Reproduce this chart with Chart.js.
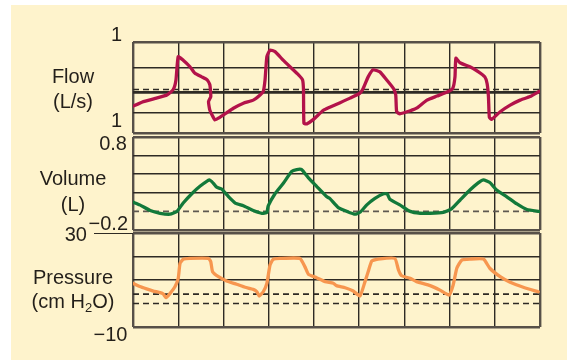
<!DOCTYPE html>
<html>
<head>
<meta charset="utf-8">
<script src="https://cdn.jsdelivr.net/npm/chart.js@4.4.0/dist/chart.umd.min.js"></script>
<style>
  html, body { margin: 0; padding: 0; background: #ffffff; }
  #page { position: relative; width: 567px; height: 360px; overflow: hidden; }
  #paper { position: absolute; left: 11px; top: 5px; width: 556px; height: 355px; background: #fef3cc; }
  canvas { position: absolute; }
  .lbl { position: absolute; font-family: "Liberation Sans", Arial, sans-serif; color: #231f1a; white-space: nowrap; }
  .name { font-size: 20px; line-height: 20px; text-align: center; width: 110px; }
  .tick { font-size: 20px; line-height: 20px; text-align: right; width: 60px; }
  sub { font-size: 13px; vertical-align: -4px; line-height: 0; }
</style>
</head>
<body>
<div id="page">
  <div id="paper"></div>
  <canvas id="flow-chart"></canvas>
  <canvas id="volume-chart"></canvas>
  <canvas id="pressure-chart"></canvas>
  <div style="position:absolute;left:94px;top:233px;width:39px;border-top:1.5px solid #2e2a24;"></div>
  <div id="labels"></div>
</div>
<script>
"use strict";

// time axis: 9 grid columns
const timeGrid = [0, 1, 2, 3, 4, 5, 6, 7, 8, 9];

// Flow (L/s)
const flowTime = [0.00, 0.23, 0.52, 0.75, 0.89, 0.95, 1.00, 1.11, 1.26, 1.37, 1.52, 1.64, 1.70, 1.72, 1.67, 1.70, 1.81, 1.92, 2.07, 2.22,
    2.44, 2.66, 2.81, 2.88, 2.92, 2.96, 3.03, 3.14, 3.32, 3.47, 3.66, 3.75, 3.77, 3.78, 3.84, 3.99, 4.21, 4.35, 4.58, 4.80,
    5.02, 5.09, 5.20, 5.31, 5.46, 5.61, 5.76, 5.81, 5.83, 5.90, 6.13, 6.27, 6.50, 6.72, 6.97, 7.07, 7.12, 7.14, 7.23, 7.45,
    7.64, 7.78, 7.83, 7.86, 7.88, 7.93, 8.12, 8.34, 8.56, 8.78, 8.98];
const flowValue = [-0.27, -0.18, -0.11, -0.05, 0.06, 0.25, 0.71, 0.64, 0.51, 0.38, 0.31, 0.25, 0.15, -0.08, -0.18, -0.35, -0.54, -0.49, -0.40, -0.31,
    -0.21, -0.15, -0.05, 0.02, 0.25, 0.71, 0.84, 0.81, 0.64, 0.51, 0.35, 0.25, 0.05, -0.61, -0.62, -0.53, -0.35, -0.29, -0.20, -0.11,
    -0.01, 0.08, 0.31, 0.45, 0.41, 0.25, 0.08, -0.05, -0.38, -0.42, -0.36, -0.31, -0.15, -0.07, 0.02, 0.08, 0.31, 0.68, 0.59, 0.51,
    0.41, 0.31, 0.18, -0.08, -0.49, -0.53, -0.38, -0.25, -0.15, -0.08, 0.02];
const flowGrid = [-0.8, -0.4, 0, 0.5, 1.0];
const flowDashed = [0.06];

// Volume (L)
const volumeTime = [0.00, 0.15, 0.38, 0.60, 0.82, 0.97, 1.11, 1.30, 1.48, 1.69, 1.78, 1.85, 1.96, 2.11, 2.26, 2.44, 2.66, 2.85, 2.96, 2.99,
    3.14, 3.32, 3.51, 3.62, 3.73, 3.88, 4.06, 4.28, 4.35, 4.54, 4.73, 4.91, 5.02, 5.17, 5.35, 5.54, 5.62, 5.68, 5.90, 6.13,
    6.35, 6.57, 6.86, 7.05, 7.23, 7.45, 7.64, 7.75, 7.89, 8.04, 8.26, 8.49, 8.71, 8.98];
const volumeValue = [0.10, 0.07, 0.01, -0.02, -0.03, 0.00, 0.09, 0.19, 0.27, 0.34, 0.30, 0.26, 0.24, 0.16, 0.09, 0.06, 0.01, -0.02, -0.01, 0.06,
    0.19, 0.30, 0.43, 0.45, 0.45, 0.36, 0.27, 0.16, 0.14, 0.04, 0.00, -0.03, -0.01, 0.07, 0.14, 0.19, 0.19, 0.13, 0.07, 0.00,
    -0.02, -0.02, -0.01, 0.03, 0.12, 0.23, 0.31, 0.34, 0.31, 0.23, 0.16, 0.08, 0.02, 0.00];
const volumeGrid = [-0.2, 0.2, 0.4, 0.6, 0.8];
const volumeDashed = [0];

// Pressure (cm H2O)
const pressureTime = [0.00, 0.15, 0.30, 0.45, 0.60, 0.67, 0.73, 0.82, 0.93, 1.00, 1.04, 1.11, 1.26, 1.67, 1.72, 1.76, 1.89, 2.07, 2.29, 2.48,
    2.66, 2.74, 2.79, 2.88, 2.96, 3.03, 3.10, 3.25, 3.69, 3.80, 3.88, 4.06, 4.25, 4.43, 4.50, 4.69, 4.87, 5.02, 5.13, 5.20,
    5.28, 5.42, 5.79, 5.87, 5.94, 6.13, 6.27, 6.57, 6.79, 6.99, 7.08, 7.16, 7.27, 7.45, 7.75, 7.89, 8.12, 8.34, 8.63, 8.96];
const pressureValue = [8.6, 7.2, 6.2, 5.3, 4.6, 4.0, 2.5, 4.3, 7.2, 10.7, 17.1, 18.8, 19.2, 19.2, 17.8, 13.5, 11.4, 9.6, 8.2, 6.9,
    6.0, 5.0, 3.2, 5.0, 8.6, 16.4, 18.8, 19.2, 19.2, 15.7, 12.4, 11.0, 9.3, 8.6, 7.6, 6.7, 5.3, 3.2, 9.3, 13.5,
    18.1, 18.9, 19.2, 14.3, 11.8, 10.7, 9.3, 7.6, 5.7, 3.6, 7.9, 15.0, 18.5, 18.9, 18.9, 15.0, 11.4, 9.0, 6.9, 5.0];
const pressureGrid = [-10, 10, 20, 30];
const pressureDashed = [4, 0];

// text labels
const panelNames = [["Flow", "(L/s)"], ["Volume", "(L)"], ["Pressure", "(cm H<sub>2</sub>O)"]];
const tickLabels = ["1", "1", "0.8", "\u22120.2", "30", "\u221210"];

const PAD = 6;
const LEFT = 133, WIDTH = 407;
const EDGE = "#575048", INNER = "#2e2a24";

function makePanel(id, times, values, color, yMin, yMax, grid, dashed, top, height, thickZero, dashColor) {
    const canvas = document.getElementById(id);
    canvas.style.left = (LEFT - PAD) + "px";
    canvas.style.top = (top - PAD) + "px";
    canvas.width = WIDTH + 2 * PAD;
    canvas.height = height + 2 * PAD;
    canvas.style.width = canvas.width + "px";
    canvas.style.height = canvas.height + "px";

    const datasets = [{
        data: times.map((t, i) => ({ x: t, y: values[i] })),
        borderColor: color,
        borderWidth: 3.3,
        pointRadius: 0,
        tension: 0.15,
        borderJoinStyle: 'round',
        borderCapStyle: 'round',
        order: 0,
    }];
    dashed.forEach(v => {
        datasets.push({
            data: [{ x: 0, y: v }, { x: 9, y: v }],
            borderColor: dashColor,
            borderWidth: 1.6,
            borderDash: [6, 4],
            pointRadius: 0,
            order: 1,
        });
    });

    return new Chart(canvas, {
        type: 'line',
        data: { datasets: datasets },
        options: {
            responsive: false,
            animation: false,
            layout: { padding: PAD },
            plugins: { legend: { display: false }, tooltip: { enabled: false } },
            scales: {
                x: {
                    type: 'linear',
                    min: 0,
                    max: 9,
                    afterBuildTicks: axis => { axis.ticks = timeGrid.map(v => ({ value: v })); },
                    ticks: { display: false },
                    border: { display: false },
                    grid: {
                        drawTicks: false,
                        color: ctx => (ctx.tick && (ctx.tick.value === 0 || ctx.tick.value === 9)) ? EDGE : INNER,
                        lineWidth: ctx => (ctx.tick && (ctx.tick.value === 0 || ctx.tick.value === 9)) ? 2.4 : 1.4,
                    },
                },
                y: {
                    min: yMin,
                    max: yMax,
                    afterBuildTicks: axis => { axis.ticks = grid.map(v => ({ value: v })); },
                    ticks: { display: false },
                    border: { display: false },
                    grid: {
                        drawTicks: false,
                        color: ctx => (ctx.tick && (ctx.tick.value === yMin || ctx.tick.value === yMax)) ? EDGE : INNER,
                        lineWidth: ctx => {
                            if (!ctx.tick) return 1.4;
                            if (thickZero && ctx.tick.value === 0) return 2.8;
                            return (ctx.tick.value === yMin || ctx.tick.value === yMax) ? 2.4 : 1.4;
                        },
                    },
                },
            },
        },
    });
}

makePanel('flow-chart', flowTime, flowValue, '#b3124a', -0.8, 1.0, flowGrid, flowDashed, 42, 91, true, '#2e2a24');
makePanel('volume-chart', volumeTime, volumeValue, '#12793a', -0.2, 0.8, volumeGrid, volumeDashed, 137, 93, false, '#5e5850');
makePanel('pressure-chart', pressureTime, pressureValue, '#f7964f', -10, 30, pressureGrid, pressureDashed, 233, 94, false, '#2e2a24');

// labels
const labelBox = document.getElementById('labels');
function addLabel(cls, html, left, top) {
    const d = document.createElement('div');
    d.className = 'lbl ' + cls;
    d.innerHTML = html;
    d.style.left = left + 'px';
    d.style.top = top + 'px';
    labelBox.appendChild(d);
}
const nameTops = [[65.5, 91], [168, 194], [266.5, 291]];
panelNames.forEach((pair, i) => {
    addLabel('name', pair[0], 73 - 55, nameTops[i][0]);
    addLabel('name', pair[1], 73 - 55, nameTops[i][1]);
});
const tickRight = [122, 122, 127, 128, 87, 127.5];
const tickTop = [24, 109.5, 133, 213, 223.5, 323.5];
tickLabels.forEach((t, i) => addLabel('tick', t, tickRight[i] - 60, tickTop[i]));
</script>
</body>
</html>
